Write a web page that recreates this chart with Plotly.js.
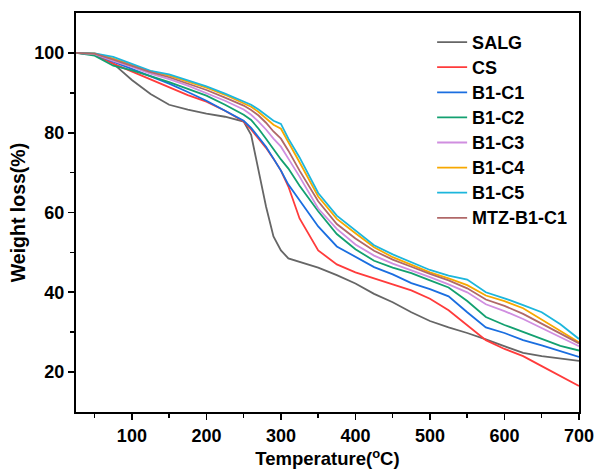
<!DOCTYPE html>
<html>
<head>
<meta charset="utf-8">
<script src="https://cdn.plot.ly/plotly-3.0.1.min.js"></script>
<style>html,body{margin:0;padding:0;background:#fff;}#chart{width:597px;height:472px;}</style>
</head>
<body>
<div id="chart"></div>
<script>
const temperature = [25, 50, 75, 100, 125, 150, 175, 200, 225, 250, 260, 270, 280, 290, 300, 310, 325, 350, 375, 400, 425, 450, 475, 500, 525, 550, 575, 600, 625, 650, 675, 700];

const salg   = [100, 99.7, 97.3, 93.2, 89.7, 87.0, 85.8, 84.8, 84.0, 82.8, 79.5, 70.5, 61.5, 54.0, 50.5, 48.5, 47.6, 46.2, 44.3, 42.2, 39.6, 37.5, 35.0, 32.8, 31.2, 29.8, 28.2, 26.5, 24.8, 24.0, 23.4, 22.8];
const cs     = [100, 99.6, 97.3, 95.3, 93.2, 91.3, 89.4, 87.8, 85.5, 82.8, 80.8, 78.5, 76.2, 73.5, 70.5, 66.5, 58.5, 50.5, 47.0, 45.0, 43.4, 42.0, 40.5, 38.4, 35.5, 31.8, 28.0, 25.8, 24.0, 21.5, 19.0, 16.5];
const b1c1   = [100, 99.7, 97.8, 96.0, 94.2, 92.3, 90.2, 88.0, 85.5, 83.0, 81.2, 78.8, 76.5, 73.5, 70.5, 67.0, 63.0, 56.5, 51.5, 49.0, 46.3, 44.5, 42.3, 40.8, 39.0, 35.0, 31.2, 29.8, 28.0, 26.7, 25.2, 23.8];
const b1c2   = [100, 99.3, 96.8, 95.6, 94.2, 92.7, 91.0, 89.3, 87.0, 84.5, 83.2, 81.0, 78.5, 75.8, 73.3, 71.0, 66.7, 60.3, 54.6, 50.8, 47.9, 46.2, 44.8, 43.0, 41.2, 37.8, 33.8, 31.8, 30.0, 28.2, 26.6, 25.4];
const b1c3   = [100, 99.7, 98.0, 96.5, 94.8, 93.4, 91.8, 90.0, 88.0, 85.8, 84.5, 82.8, 80.8, 78.5, 76.5, 73.5, 69.0, 61.0, 55.9, 52.0, 49.2, 47.2, 45.6, 43.8, 42.0, 40.0, 37.0, 35.3, 33.3, 31.0, 28.8, 26.5];
const b1c4   = [100, 99.9, 98.6, 97.0, 95.4, 94.3, 92.8, 91.3, 89.5, 87.5, 86.5, 85.2, 83.6, 82.0, 81.0, 77.5, 72.6, 64.0, 58.4, 54.8, 51.3, 48.8, 47.0, 45.0, 43.5, 41.8, 39.2, 37.8, 36.0, 33.2, 30.5, 27.5];
const b1c5   = [100, 99.9, 99.0, 97.3, 95.5, 94.6, 93.0, 91.6, 89.8, 87.8, 87.0, 85.8, 84.3, 83.0, 82.2, 78.5, 73.8, 64.9, 59.2, 55.6, 51.8, 49.5, 47.5, 45.6, 44.2, 43.2, 40.0, 38.5, 36.8, 35.0, 32.0, 28.3];
const mtzb1c1= [100, 99.8, 98.3, 96.8, 95.2, 93.9, 92.3, 90.7, 88.8, 86.8, 85.7, 84.3, 82.5, 80.3, 78.5, 75.5, 70.5, 62.8, 57.1, 53.5, 50.4, 48.2, 46.4, 44.6, 43.0, 41.0, 38.2, 36.6, 34.6, 32.2, 29.8, 27.2];

const seriesNames = ["SALG", "CS", "B1-C1", "B1-C2", "B1-C3", "B1-C4", "B1-C5", "MTZ-B1-C1"];
const seriesData = [salg, cs, b1c1, b1c2, b1c3, b1c4, b1c5, mtzb1c1];
const seriesColors = ["#666666", "#ff3b3b", "#1a6ee0", "#13a070", "#d08ee0", "#f7a800", "#1cb6dc", "#b06868"];

const xTitle = "Temperature(<sup>o</sup>C)";
const yTitle = "Weight loss(%)";

const FONT = "Liberation Sans, Arial, sans-serif";

const traces = seriesNames.map((name, i) => ({
  x: temperature,
  y: seriesData[i],
  name: '<span style="font-size:18px">' + name + '</span>',
  type: "scatter",
  mode: "lines",
  line: {color: seriesColors[i], width: 1.8}
}));

const axisCommon = {
  showline: true,
  linecolor: "#000",
  linewidth: 2,
  mirror: true,
  ticks: "outside",
  ticklen: 6,
  tickwidth: 1.8,
  tickcolor: "#000",
  showgrid: false,
  zeroline: false,
  tickfont: {family: FONT, size: 18, color: "#000", weight: "bold"}
};

const layout = {
  width: 597,
  height: 472,
  margin: {l: 76, r: 18, t: 13, b: 60},
  paper_bgcolor: "#fff",
  plot_bgcolor: "#fff",
  font: {family: FONT, color: "#000"},
  showlegend: true,
  legend: {
    x: 0.708, y: 0.971, xanchor: "left", yanchor: "top",
    font: {family: FONT, size: 17, color: "#000", weight: "bold"},
    bgcolor: "rgba(0,0,0,0)",
    tracegroupgap: 0
  },
  xaxis: Object.assign({}, axisCommon, {
    range: [25, 700],
    tickvals: [100, 200, 300, 400, 500, 600, 700],
    minor: {ticks: "outside", ticklen: 4, tickwidth: 1.5, tickcolor: "#000", tickvals: [50, 150, 250, 350, 450, 550, 650]},
    title: {text: xTitle, font: {family: FONT, size: 18.5, color: "#000", weight: "bold"}, standoff: 7}
  }),
  yaxis: Object.assign({}, axisCommon, {
    range: [10, 110],
    tickvals: [20, 40, 60, 80, 100],
    minor: {ticks: "outside", ticklen: 4, tickwidth: 1.5, tickcolor: "#000", tickvals: [30, 50, 70, 90]},
    title: {text: yTitle, font: {family: FONT, size: 19.5, color: "#000", weight: "bold"}, standoff: 4}
  })
};

Plotly.newPlot("chart", traces, layout, {displayModeBar: false, staticPlot: true});
</script>
</body>
</html>
